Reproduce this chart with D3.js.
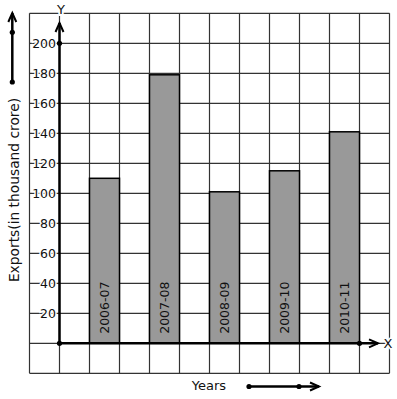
<!DOCTYPE html>
<html>
<head>
<meta charset="utf-8">
<script src="https://cdn.jsdelivr.net/npm/d3@7"></script>
<style>
  body { margin: 0; background: #fff; }
  text { font-family: "DejaVu Sans", sans-serif; fill: #111; }
</style>
</head>
<body>
<div id="chart"></div>
<script>
// data
var years = ["2006-07", "2007-08", "2008-09", "2009-10", "2010-11"];
var exportsVal = [110, 179, 101, 115, 141];
var yTicks = [20, 40, 60, 80, 100, 120, 140, 160, 180, 200];

var width = 397, height = 399;

var svg = d3.select("#chart").append("svg")
    .attr("width", width)
    .attr("height", height);

// scales: each 20 units is one grid row of 30px
var y = d3.scaleLinear().domain([0, 200]).range([343.3, 43.3]);
var x = d3.scaleBand().domain(years).range([74.5, 374.5])
    .paddingInner(0.5).paddingOuter(0.25);
var originX = 59.5;

// grid
var gx = d3.range(29.5, 390, 30);
var gy = d3.range(-20, 221, 20);
svg.append("g").selectAll("line").data(gx).enter().append("line")
    .attr("x1", function(d) { return d; })
    .attr("x2", function(d) { return d; })
    .attr("y1", y(220)).attr("y2", y(-20))
    .attr("stroke", "#333").attr("stroke-width", 1.2);
svg.append("g").selectAll("line").data(gy).enter().append("line")
    .attr("y1", function(d) { return y(d); })
    .attr("y2", function(d) { return y(d); })
    .attr("x1", 29.5).attr("x2", 389.5)
    .attr("stroke", "#333").attr("stroke-width", 1.2);

// bars
svg.append("g").selectAll("rect").data(years).enter().append("rect")
    .attr("x", function(d) { return x(d); })
    .attr("width", x.bandwidth())
    .attr("y", function(d, i) { return y(exportsVal[i]); })
    .attr("height", function(d, i) { return y(0) - y(exportsVal[i]); })
    .attr("fill", "#999")
    .attr("stroke", "#000")
    .attr("stroke-width", 1.5);

// year labels inside bars
svg.append("g").selectAll("text").data(years).enter().append("text")
    .attr("transform", function(d) {
        return "translate(" + (x(d) + x.bandwidth() / 2) + "," + (y(0) - 9.5) + ") rotate(-90)";
    })
    .attr("dy", "0.35em")
    .attr("font-size", 12.5)
    .text(function(d) { return d; });

// y tick labels with white background
var tk = svg.append("g").selectAll("g").data(yTicks).enter().append("g");
tk.append("text")
    .attr("x", 56)
    .attr("y", function(d) { return y(d); })
    .attr("dy", "0.36em")
    .attr("text-anchor", "end")
    .attr("font-size", 12.5)
    .attr("stroke", "#fff").attr("stroke-width", 3)
    .attr("paint-order", "stroke")
    .text(function(d) { return d; });

function chevron(g, tx, ty, dir) {
    var p = dir === "up"
        ? [[tx - 4, ty + 9], [tx, ty], [tx + 4, ty + 9]]
        : [[tx - 9, ty - 4], [tx, ty], [tx - 9, ty + 4]];
    g.append("path").attr("d", d3.line()(p))
        .attr("fill", "none").attr("stroke", "#000").attr("stroke-width", 2);
}
function dot(g, cx, cy) {
    g.append("circle").attr("cx", cx).attr("cy", cy).attr("r", 2.6).attr("fill", "#000");
}

var ax = svg.append("g");
// Y axis
ax.append("line").attr("x1", originX).attr("x2", originX)
    .attr("y1", y(0)).attr("y2", 23)
    .attr("stroke", "#000").attr("stroke-width", 2.5);
chevron(ax, originX, 23, "up");
dot(ax, originX, y(200));
dot(ax, originX, y(0));
ax.append("text").attr("x", 61).attr("y", 9).attr("dy", "0.36em")
    .attr("text-anchor", "middle").attr("font-size", 13)
    .attr("stroke", "#fff").attr("stroke-width", 4).attr("paint-order", "stroke")
    .text("Y");

// X axis
ax.append("line").attr("x1", originX).attr("x2", 378)
    .attr("y1", y(0)).attr("y2", y(0))
    .attr("stroke", "#000").attr("stroke-width", 2.5);
chevron(ax, 378, y(0), "right");
dot(ax, 359.5, y(0));
ax.append("text").attr("x", 388).attr("y", y(0)).attr("dy", "0.36em")
    .attr("text-anchor", "middle").attr("font-size", 13)
    .attr("stroke", "#fff").attr("stroke-width", 3).attr("paint-order", "stroke")
    .text("X");

// axis titles
svg.append("text")
    .attr("transform", "translate(14,190) rotate(-90)")
    .attr("dy", "0.35em")
    .attr("text-anchor", "middle")
    .attr("font-size", 13.8)
    .text("Exports(in thousand crore)");

svg.append("text")
    .attr("x", 209).attr("y", 385).attr("dy", "0.36em")
    .attr("text-anchor", "middle")
    .attr("font-size", 13)
    .text("Years");

// decorative arrows
var dec = svg.append("g");
dec.append("line").attr("x1", 12.3).attr("x2", 12.3).attr("y1", 82).attr("y2", 13)
    .attr("stroke", "#000").attr("stroke-width", 2.5);
chevron(dec, 12.3, 13, "up");
dot(dec, 12.3, 32.3);
dot(dec, 12.3, 82);

dec.append("line").attr("x1", 249).attr("x2", 319).attr("y1", 386.5).attr("y2", 386.5)
    .attr("stroke", "#000").attr("stroke-width", 2.5);
chevron(dec, 319, 386.5, "right");
dot(dec, 249, 386.5);
dot(dec, 299, 386.5);
</script>
</body>
</html>
